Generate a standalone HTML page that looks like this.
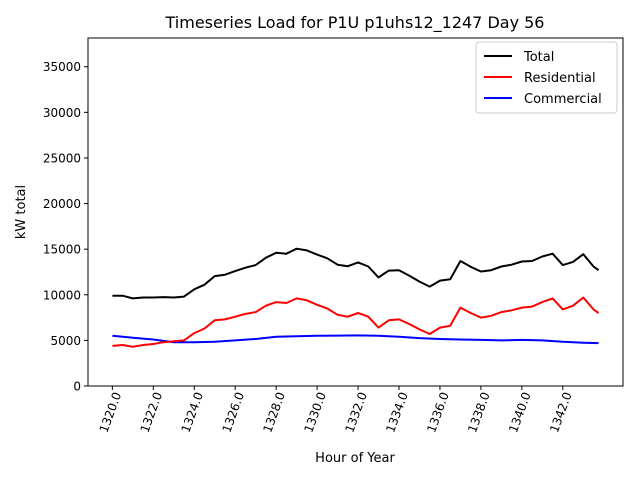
<!DOCTYPE html>
<html><head><meta charset="utf-8"><style>
body{margin:0;background:#fff;font-family:"DejaVu Sans","Liberation Sans",sans-serif;}
</style></head><body>
<svg id="chart" width="640" height="480" xmlns="http://www.w3.org/2000/svg" font-family="DejaVu Sans, Liberation Sans, sans-serif">
<rect width="640" height="480" fill="#fff"/>
<text x="355" y="28" font-size="16" text-anchor="middle">Timeseries Load for P1U p1uhs12_1247  Day 56</text>
<g id="plot"></g>
<text transform="translate(25,212) rotate(-90)" font-size="13" text-anchor="middle">kW total</text>
<text x="355" y="462" font-size="13" text-anchor="middle">Hour of Year</text>
<g>
<rect x="476" y="42" width="141" height="71" fill="#fff" stroke="#ccc" rx="3"/>
<line x1="484" y1="56" x2="512" y2="56" stroke="#000" stroke-width="2"/>
<text x="524" y="61" font-size="13">Total</text>
<line x1="484" y1="77" x2="512" y2="77" stroke="#f00" stroke-width="2"/>
<text x="524" y="82" font-size="13">Residential</text>
<line x1="484" y1="98" x2="512" y2="98" stroke="#00f" stroke-width="2"/>
<text x="524" y="103" font-size="13">Commercial</text>
</g>
</svg>
<script>
const halfHours=[1320,1320.5,1321,1321.5,1322,1322.5,1323,1323.5,1324,1324.5,1325,1325.5,1326,1326.5,1327,1327.5,1328,1328.5,1329,1329.5,1330,1330.5,1331,1331.5,1332,1332.5,1333,1333.5,1334,1334.5,1335,1335.5,1336,1336.5,1337,1337.5,1338,1338.5,1339,1339.5,1340,1340.5,1341,1341.5,1342,1342.5,1343,1343.5,1343.75];
const totalLoad=[9900,9900,9600,9700,9700,9750,9700,9800,10600,11100,12050,12200,12600,12970,13250,14070,14600,14500,15050,14870,14400,14000,13300,13130,13550,13100,11900,12650,12700,12100,11450,10900,11550,11700,13700,13070,12550,12700,13100,13300,13650,13700,14200,14500,13250,13600,14450,13100,12700];
const residentialLoad=[4400,4500,4300,4500,4600,4800,4900,5000,5800,6300,7200,7300,7600,7900,8100,8800,9200,9100,9600,9400,8900,8500,7800,7600,8000,7600,6400,7200,7300,6800,6200,5700,6400,6600,8600,8000,7500,7700,8100,8300,8600,8700,9200,9600,8400,8800,9700,8400,8000];
const commercialHours=[1320,1321,1322,1323,1324,1325,1326,1327,1328,1329,1330,1331,1332,1333,1334,1335,1336,1337,1338,1339,1340,1341,1342,1343,1343.75];
const commercialLoad=[5500,5300,5100,4800,4800,4850,5000,5150,5400,5450,5500,5520,5550,5500,5400,5250,5150,5100,5050,5000,5050,5000,4850,4750,4700];
const xTicks=[1320,1322,1324,1326,1328,1330,1332,1334,1336,1338,1340,1342];
const xTickLabels=["1320.0","1322.0","1324.0","1326.0","1328.0","1330.0","1332.0","1334.0","1336.0","1338.0","1340.0","1342.0"];
const yTicks=[0,5000,10000,15000,20000,25000,30000,35000];

const L=88,R=623,T=38,B=386;
const xMin=1318.81,xMax=1344.94,yMin=0,yMax=38150;
const sx=v=>L+(v-xMin)/(xMax-xMin)*(R-L);
const sy=v=>B-(v-yMin)/(yMax-yMin)*(B-T);
const NS="http://www.w3.org/2000/svg";
const g=document.getElementById('plot');
function mk(tag,attrs){const e=document.createElementNS(NS,tag);for(const k in attrs)e.setAttribute(k,attrs[k]);g.appendChild(e);return e;}

yTicks.forEach(v=>{
  const t=mk('line',{x1:L-4,x2:L,y1:sy(v),y2:sy(v),stroke:'#000'});
  
  
  const tx=mk('text',{x:L-7,y:sy(v)+4.5,'font-size':12,'text-anchor':'end'});
  tx.textContent=String(v);
  
  
});
xTicks.forEach((v,i)=>{
  const t=mk('line',{x1:sx(v),x2:sx(v),y1:B,y2:B+4,stroke:'#000'});
  
  
  const tx=mk('text',{transform:`translate(${sx(v)+9},${B+8}) rotate(-70)`,'font-size':12,'text-anchor':'end'});
  tx.textContent=xTickLabels[i];
  
  
});
function line(xs,ys,color,name){
  const p=mk('polyline',{points:xs.map((x,i)=>sx(x).toFixed(1)+','+sy(ys[i]).toFixed(1)).join(' '),fill:'none',stroke:color,'stroke-width':2,'stroke-linejoin':'round'});
  
  
}
line(commercialHours,commercialLoad,'#00f','commercial-line');
line(halfHours,residentialLoad,'#f00','residential-line');
line(halfHours,totalLoad,'#000','total-line');
const fr=mk('rect',{x:L,y:T,width:R-L,height:B-T,fill:'none',stroke:'#000','stroke-width':1});


</script>
</body></html>
